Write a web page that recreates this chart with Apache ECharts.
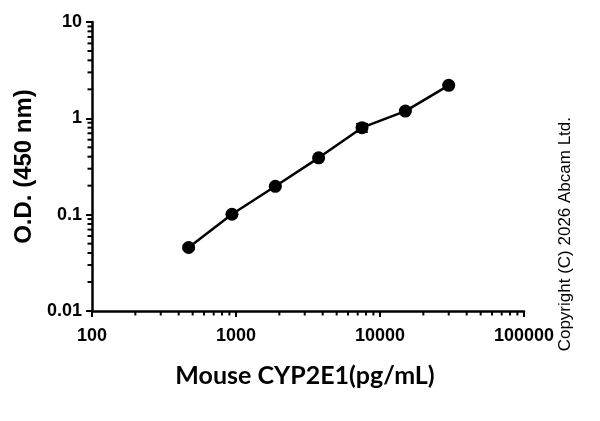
<!DOCTYPE html>
<html>
<head>
<meta charset="utf-8">
<script src="https://cdn.jsdelivr.net/npm/echarts@6/dist/echarts.min.js"></script>
<style>html,body{margin:0;padding:0;background:#fff}#c{width:600px;height:421px}</style>
</head>
<body>
<div id="c"></div>
<script>
var concentrations = [468.75, 937.5, 1875, 3750, 7500, 15000, 30000];
var odValues = [0.0456, 0.101, 0.197, 0.389, 0.80, 1.19, 2.20];
var odErrors = [0.002, 0.003, 0.005, 0.01, 0.08, 0.03, 0.03];
var xMinorTicks = [];
var yMinorTicks = [];
[100, 1000, 10000].forEach(function (d) { for (var k = 2; k <= 9; k++) xMinorTicks.push(d * k); });
[0.01, 0.1, 1].forEach(function (d) { for (var k = 2; k <= 9; k++) yMinorTicks.push(+(d * k).toPrecision(3)); });
var xTitle = 'Mouse CYP2E1(pg/mL)';
var yTitle = 'O.D. (450 nm)';
var copyright = 'Copyright (C) 2026 Abcam Ltd.';

var chart = echarts.init(document.getElementById('c'));
var FONT = '"Liberation Sans", Arial, sans-serif';
var NARROW = '"Liberation Sans Narrow", "Liberation Sans", Arial, sans-serif';

function fmt(v) { return String(+v.toPrecision(6)); }

chart.setOption({
  animation: false,
  backgroundColor: '#fff',
  grid: { left: 92, right: 76, top: 22, bottom: 110, containLabel: false },
  xAxis: {
    type: 'log', logBase: 10, min: 100, max: 100000,
    name: xTitle, nameLocation: 'middle', nameGap: 52,
    nameTextStyle: { color: '#000', fontSize: 25, fontWeight: 'bold', fontFamily: 'Lato, sans-serif', padding: [0, 6, 0, 0] },
    axisLine: { lineStyle: { color: '#000', width: 2.5 } },
    axisTick: { length: 6, lineStyle: { color: '#000', width: 2 } },
    splitLine: { show: false },
    axisLabel: { margin: 16, color: '#000', fontSize: 18, fontWeight: 'bold', fontFamily: NARROW, formatter: fmt }
  },
  yAxis: {
    type: 'log', logBase: 10, min: 0.01, max: 10,
    name: yTitle, nameLocation: 'middle', nameGap: 55,
    nameTextStyle: { color: '#000', fontSize: 24, fontWeight: 'bold', fontFamily: FONT },
    axisLine: { lineStyle: { color: '#000', width: 2.5 } },
    axisTick: { length: 6, lineStyle: { color: '#000', width: 2 } },
    splitLine: { show: false },
    axisLabel: { margin: 10, color: '#000', fontSize: 18, fontWeight: 'bold', fontFamily: NARROW, formatter: fmt }
  },
  graphic: [{
    type: 'text', left: 557, top: 117, rotation: Math.PI / 2,
    style: { text: copyright, fill: '#000', fontSize: 17, fontFamily: FONT }
  }],
  series: [
    {
      type: 'custom', silent: true, clip: false,
      data: xMinorTicks.map(function (v) { return [v, 0.01]; }),
      renderItem: function (params, api) {
        var p = api.coord([api.value(0), api.value(1)]);
        return { type: 'line', shape: { x1: p[0], y1: p[1], x2: p[0], y2: p[1] + 4.5 }, style: { stroke: '#000', lineWidth: 2 } };
      }
    },
    {
      type: 'custom', silent: true, clip: false,
      data: yMinorTicks.map(function (v) { return [100, v]; }),
      renderItem: function (params, api) {
        var p = api.coord([api.value(0), api.value(1)]);
        return { type: 'line', shape: { x1: p[0] - 4.5, y1: p[1], x2: p[0], y2: p[1] }, style: { stroke: '#000', lineWidth: 2 } };
      }
    },
    {
      type: 'custom', silent: true, clip: false, z: 3,
      data: concentrations.map(function (c, i) { return [c, odValues[i] - odErrors[i], odValues[i] + odErrors[i]]; }),
      renderItem: function (params, api) {
        var lo = api.coord([api.value(0), api.value(1)]);
        var hi = api.coord([api.value(0), api.value(2)]);
        var w = 6;
        return { type: 'group', children: [
          { type: 'line', shape: { x1: lo[0], y1: lo[1], x2: hi[0], y2: hi[1] }, style: { stroke: '#000', lineWidth: 1.5 } },
          { type: 'line', shape: { x1: lo[0] - w, y1: lo[1], x2: lo[0] + w, y2: lo[1] }, style: { stroke: '#000', lineWidth: 1.5 } },
          { type: 'line', shape: { x1: hi[0] - w, y1: hi[1], x2: hi[0] + w, y2: hi[1] }, style: { stroke: '#000', lineWidth: 1.5 } }
        ] };
      }
    },
    {
      type: 'line', z: 4,
      data: concentrations.map(function (c, i) { return [c, odValues[i]]; }),
      symbol: 'circle', symbolSize: 13,
      itemStyle: { color: '#000' },
      lineStyle: { color: '#000', width: 2.5 }
    }
  ]
});
</script>
</body>
</html>
